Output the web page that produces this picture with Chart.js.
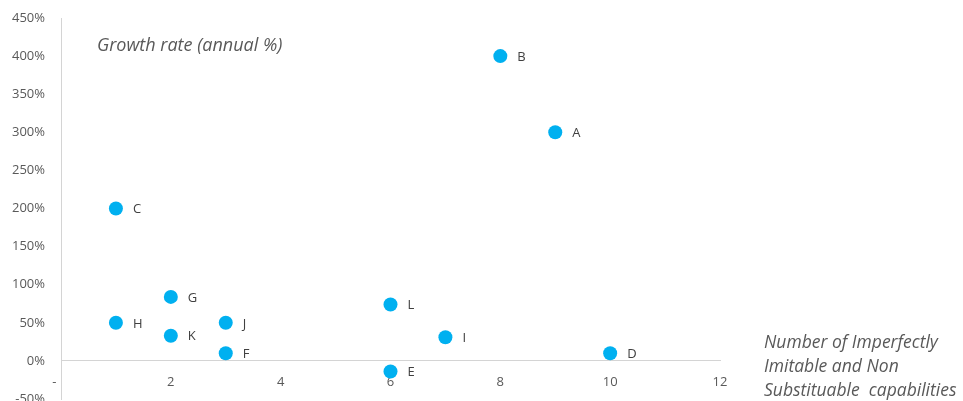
<!DOCTYPE html>
<html>
<head>
<meta charset="utf-8">
<script src="https://cdn.jsdelivr.net/npm/chart.js@4/dist/chart.umd.min.js"></script>
<style>
  html, body { margin: 0; padding: 0; background: #ffffff; overflow: hidden; }
  #wrap { width: 963px; height: 401px; overflow: hidden; }
  #c { display: block; }
</style>
</head>
<body>
<div id="wrap"><canvas id="c" width="963" height="406"></canvas></div>
<script>
// Firms and their scores
const firms = ['A', 'B', 'C', 'D', 'E', 'F', 'G', 'H', 'I', 'J', 'K', 'L'];
const capabilities = [9, 8, 1, 10, 6, 3, 2, 1, 7, 3, 2, 6];
const growthRate = [3.00, 4.00, 2.00, 0.10, -0.14, 0.10, 0.84, 0.50, 0.31, 0.50, 0.33, 0.74];

// Axis ticks
const xTicks = [0, 2, 4, 6, 8, 10, 12];
const yTicks = [-0.5, 0, 0.5, 1, 1.5, 2, 2.5, 3, 3.5, 4, 4.5];

const yTitle = 'Growth rate (annual %)';
const xTitle = ['Number of Imperfectly', 'Imitable and Non', 'Substituable  capabilities'];

const points = firms.map((f, i) => ({ x: capabilities[i], y: growthRate[i] }));

const FONT = '"Open Sans", sans-serif';
const AXIS_COLOR = '#d4d4d4';

const textPlugin = {
  id: 'texts',
  afterDatasetsDraw(chart) {
    const ctx = chart.ctx;
    const meta = chart.getDatasetMeta(0);
    ctx.save();
    ctx.font = '13px ' + FONT;
    ctx.fillStyle = '#404040';
    ctx.textAlign = 'left';
    ctx.textBaseline = 'middle';
    meta.data.forEach((pt, i) => {
      ctx.fillText(firms[i], pt.x + 17, pt.y + 1);
    });
    ctx.restore();
  },
  afterDraw(chart) {
    const ctx = chart.ctx;
    ctx.save();
    ctx.fillStyle = '#595959';
    ctx.textAlign = 'left';
    ctx.textBaseline = 'middle';
    ctx.font = 'italic 18px ' + FONT;
    ctx.fillText(yTitle, 97, 46);
    ctx.font = 'italic 17.5px ' + FONT;
    xTitle.forEach((line, i) => ctx.fillText(line, 764, 343 + i * 24));
    ctx.restore();
  }
};

new Chart(document.getElementById('c'), {
  type: 'scatter',
  data: {
    datasets: [{
      data: points,
      backgroundColor: '#00B0F0',
      borderWidth: 0,
      pointRadius: 7,
      pointHoverRadius: 7
    }]
  },
  options: {
    responsive: false,
    animation: false,
    events: [],
    layout: { padding: { left: 0, right: 243, top: 18, bottom: 4 } },
    plugins: { legend: { display: false }, tooltip: { enabled: false } },
    scales: {
      x: {
        type: 'linear',
        position: { y: 0 },
        min: 0,
        max: 12,
        afterBuildTicks(scale) { scale.ticks = xTicks.map(v => ({ value: v })); },
        grid: { display: false, drawTicks: false },
        border: { display: true, color: AXIS_COLOR, width: 1 },
        ticks: {
          padding: 14,
          maxRotation: 0,
          autoSkip: false,
          color: '#595959',
          font: { family: FONT, size: 13 },
          callback: v => (v === 0 ? '-    ' : String(v))
        }
      },
      y: {
        type: 'linear',
        min: -0.5,
        max: 4.5,
        afterBuildTicks(scale) { scale.ticks = yTicks.map(v => ({ value: v })); },
        afterFit(scale) {
          scale.width = 61;
          // the end labels may run past the plot edges
          scale.paddingTop = 0;
          scale.paddingBottom = 0;
        },
        grid: { display: false, drawTicks: false },
        border: { display: true, color: AXIS_COLOR, width: 1 },
        ticks: {
          padding: 16,
          autoSkip: false,
          color: '#595959',
          font: { family: FONT, size: 13 },
          callback: v => Math.round(v * 100) + '%'
        }
      }
    }
  },
  plugins: [textPlugin]
});
</script>
</body>
</html>
